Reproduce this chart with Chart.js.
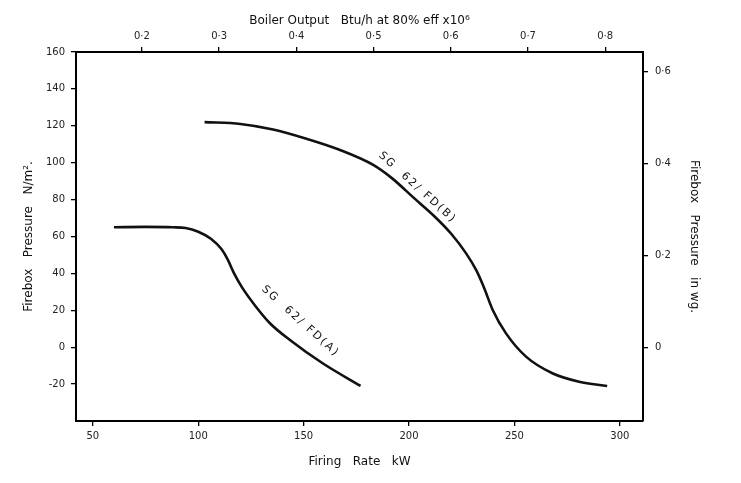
<!DOCTYPE html>
<html>
<head>
<meta charset="utf-8">
<script src="https://cdn.jsdelivr.net/npm/chart.js"></script>
<style>
  html, body { margin: 0; padding: 0; background: #fff; }
  #wrap { width: 741px; height: 483px; }
</style>
</head>
<body>
<div id="wrap"><canvas id="myChart" width="741" height="483"></canvas></div>
<script>
  // firing rate (kW) against firebox pressure (N/m2)
  var rateA = [60, 75, 88, 94, 100, 106, 111, 114, 117, 121, 127, 134, 143.5, 159, 177];
  var pressA = [65, 65.2, 65, 64.6, 62.6, 58.8, 53.2, 47.5, 40, 32, 22.5, 13, 3.9, -8.7, -21];

  var rateB = [103, 120, 135.5, 151.3, 167, 183, 192, 202, 212, 220, 227, 232, 235.5, 239.7, 246, 255.5, 268, 280.7, 294];
  var pressB = [122, 121, 118, 113, 107, 98.8, 91.5, 81.2, 71, 61.5, 51, 41.5, 32.5, 20.2, 7.5, -5.1, -14.1, -18.7, -21];

  // tick labels on the four axes
  var leftTicks = [-20, 0, 20, 40, 60, 80, 100, 120, 140, 160];
  var rightTicks = [0, 0.2, 0.4, 0.6];
  var bottomTicks = [50, 100, 150, 200, 250, 300];
  var topTicks = [0.2, 0.3, 0.4, 0.5, 0.6, 0.7, 0.8];

  var PA_PER_INWG = 249.09;            // 1 in wg = 249 N/m2
  var BTU_PER_KW = 0.8 * 3412.14 / 1e6; // kW -> Btu/h x10^6 at 80% eff

  var X_MIN = 42, X_MAX = 311, Y_MIN = -40, Y_MAX = 160;

  function toPoints(xs, ys) {
    return xs.map(function (x, i) { return { x: x, y: ys[i] }; });
  }
  function fixTicks(values) {
    return function (scale) {
      scale.ticks = values.map(function (v) { return { value: v }; });
    };
  }
  function decimal(v) {
    return v === 0 ? '0' : v.toFixed(1).replace('.', '·');
  }

  var tickFont = { family: 'DejaVu Sans', size: 10 };
  var titleFont = { family: 'DejaVu Sans', size: 12 };
  var grid = { display: true, drawOnChartArea: false, drawTicks: true, tickLength: 5, color: '#000', lineWidth: 1.3 };
  var border = { display: true, color: '#000', width: 2 };

  var curveLabels = [
    { text: 'SG  62/ FD(A)', x: 148.5, y: 14, angle: 42 },
    { text: 'SG  62/ FD(B)', x: 204, y: 86.5, angle: 42 }
  ];

  var labelPlugin = {
    id: 'curveLabels',
    afterDatasetsDraw: function (chart) {
      var ctx = chart.ctx;
      var sx = chart.scales.x, sy = chart.scales.y;
      curveLabels.forEach(function (l) {
        ctx.save();
        ctx.translate(sx.getPixelForValue(l.x), sy.getPixelForValue(l.y));
        ctx.rotate(l.angle * Math.PI / 180);
        ctx.font = '11px "DejaVu Sans"';
        if ('letterSpacing' in ctx) ctx.letterSpacing = '2px';
        ctx.fillStyle = '#111';
        ctx.textAlign = 'center';
        ctx.textBaseline = 'middle';
        ctx.fillText(l.text, 0, 0);
        ctx.restore();
      });
    }
  };

  var line = {
    fill: false,
    borderColor: '#111',
    borderWidth: 2.6,
    pointRadius: 0,
    cubicInterpolationMode: 'monotone',
    xAxisID: 'x',
    yAxisID: 'y'
  };

  var ctx = document.getElementById('myChart').getContext('2d');
  var myChart = new Chart(ctx, {
    type: 'line',
    data: {
      datasets: [
        Object.assign({ label: 'SG 62/FD(A)', data: toPoints(rateA, pressA) }, line),
        Object.assign({ label: 'SG 62/FD(B)', data: toPoints(rateB, pressB) }, line)
      ]
    },
    options: {
      responsive: false,
      animation: false,
      layout: { padding: 0 },
      plugins: { legend: { display: false }, tooltip: { enabled: false } },
      scales: {
        x: {
          type: 'linear', position: 'bottom', min: X_MIN, max: X_MAX,
          afterBuildTicks: fixTicks(bottomTicks),
          afterFit: function (s) { s.height = 62; },
          grid: grid, border: border,
          ticks: { font: tickFont, color: '#222', padding: 4, maxRotation: 0 },
          title: { display: true, text: 'Firing   Rate   kW', font: titleFont, color: '#111', padding: { bottom: 14 } }
        },
        x2: {
          type: 'linear', position: 'top', min: X_MIN * BTU_PER_KW, max: X_MAX * BTU_PER_KW,
          afterBuildTicks: fixTicks(topTicks),
          afterFit: function (s) { s.height = 52; },
          grid: grid, border: border,
          ticks: { font: tickFont, color: '#222', padding: 5, maxRotation: 0, callback: decimal },
          title: { display: true, text: 'Boiler Output   Btu/h at 80% eff x10⁶', font: titleFont, color: '#111', padding: { top: 14 } }
        },
        y: {
          type: 'linear', position: 'left', min: Y_MIN, max: Y_MAX,
          afterBuildTicks: fixTicks(leftTicks),
          afterFit: function (s) { s.width = 76; },
          grid: grid, border: border,
          ticks: { font: tickFont, color: '#222', padding: 6 },
          title: { display: true, text: 'Firebox   Pressure   N/m².', font: titleFont, color: '#111', padding: { top: 22 } }
        },
        y2: {
          type: 'linear', position: 'right', min: Y_MIN / PA_PER_INWG, max: Y_MAX / PA_PER_INWG,
          afterBuildTicks: fixTicks(rightTicks),
          afterFit: function (s) { s.width = 98; },
          grid: grid, border: border,
          ticks: { font: tickFont, color: '#222', padding: 7, callback: decimal },
          title: { display: true, text: 'Firebox   Pressure   in wg.', font: titleFont, color: '#111', padding: { top: 40 } }
        }
      }
    },
    plugins: [labelPlugin]
  });
</script>
</body>
</html>
